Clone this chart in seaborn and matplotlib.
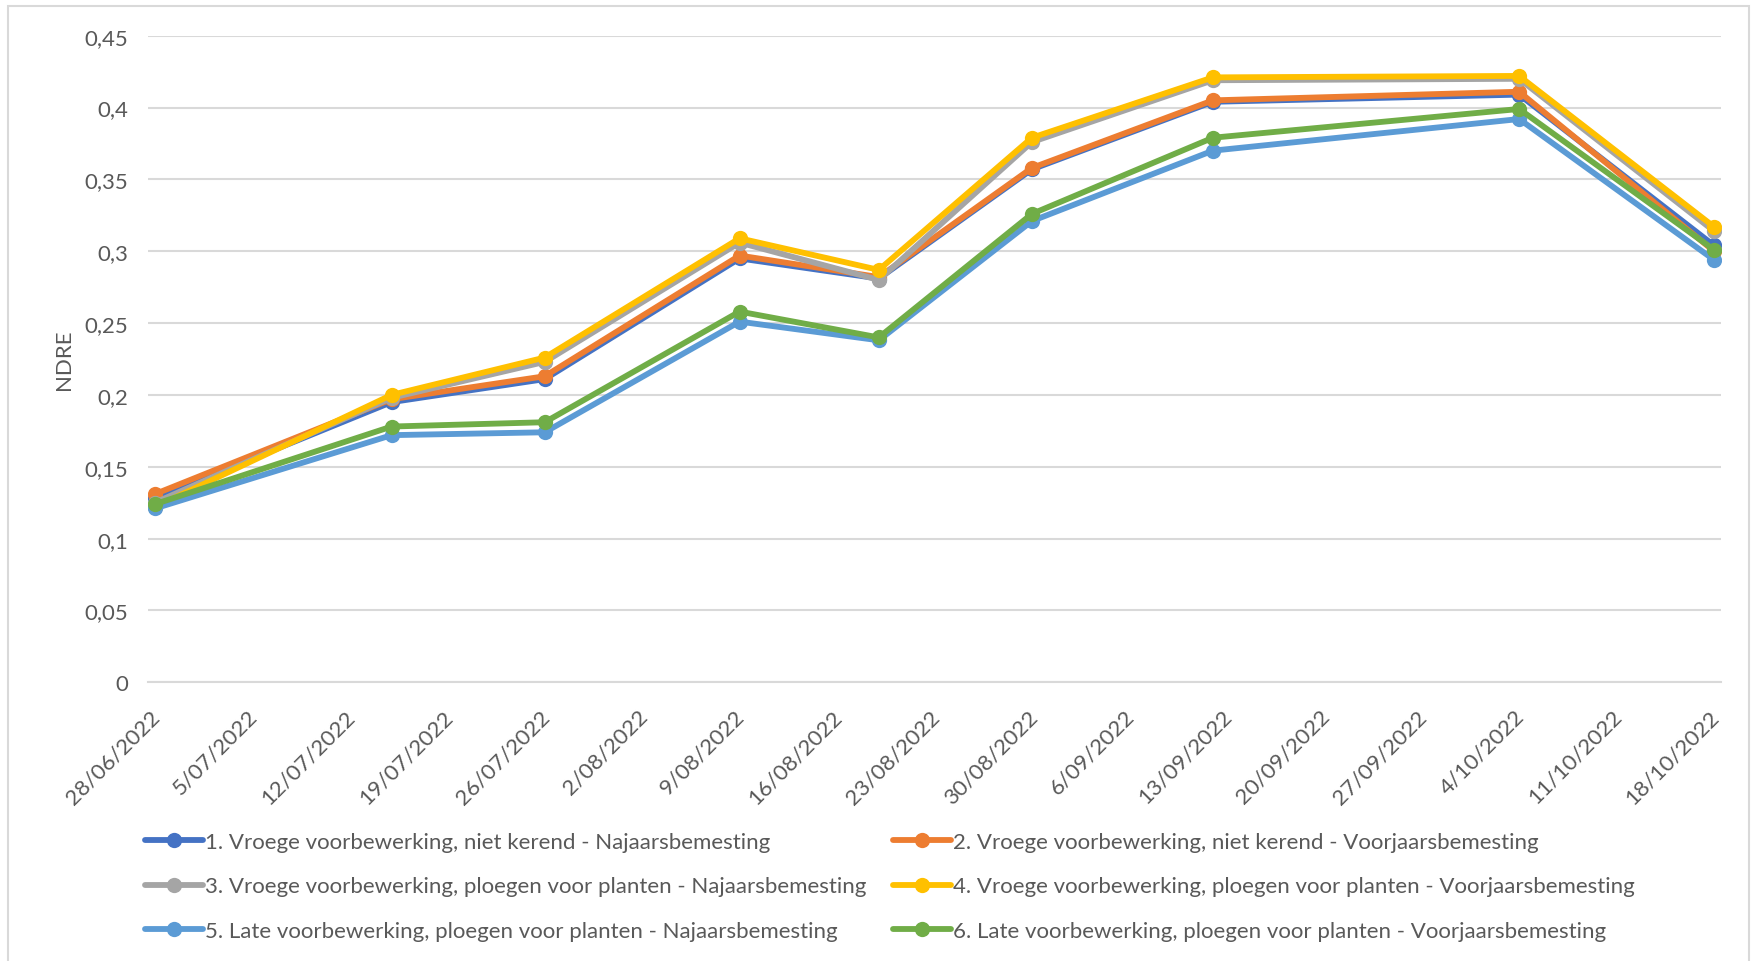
import matplotlib
matplotlib.use("Agg")
import matplotlib.pyplot as plt
from matplotlib.patches import Rectangle
from matplotlib.lines import Line2D
from matplotlib.transforms import ScaledTranslation
import seaborn as sns
import pandas as pd

# Measurement dates (day/month/year)
dates = ["28/06/2022", "15/07/2022", "26/07/2022", "9/08/2022", "19/08/2022",
         "30/08/2022", "12/09/2022", "4/10/2022", "18/10/2022"]

series_names = [
    "1. Vroege voorbewerking, niet kerend - Najaarsbemesting",
    "2. Vroege voorbewerking, niet kerend - Voorjaarsbemesting",
    "3. Vroege voorbewerking, ploegen voor planten - Najaarsbemesting",
    "4. Vroege voorbewerking, ploegen voor planten - Voorjaarsbemesting",
    "5. Late voorbewerking, ploegen voor planten - Najaarsbemesting",
    "6. Late voorbewerking, ploegen voor planten - Voorjaarsbemesting",
]

ndre_1 = [0.128, 0.195, 0.211, 0.295, 0.281, 0.357, 0.404, 0.409, 0.304]
ndre_2 = [0.131, 0.197, 0.213, 0.297, 0.282, 0.358, 0.405, 0.411, 0.300]
ndre_3 = [0.125, 0.198, 0.223, 0.306, 0.280, 0.376, 0.419, 0.420, 0.314]
ndre_4 = [0.122, 0.200, 0.226, 0.309, 0.287, 0.379, 0.421, 0.422, 0.317]
ndre_5 = [0.121, 0.172, 0.174, 0.251, 0.238, 0.321, 0.370, 0.392, 0.294]
ndre_6 = [0.124, 0.178, 0.181, 0.258, 0.240, 0.326, 0.379, 0.399, 0.301]

# Weekly date ticks on the x axis
x_ticks = ["28/06/2022", "5/07/2022", "12/07/2022", "19/07/2022", "26/07/2022",
           "2/08/2022", "9/08/2022", "16/08/2022", "23/08/2022", "30/08/2022",
           "6/09/2022", "13/09/2022", "20/09/2022", "27/09/2022", "4/10/2022",
           "11/10/2022", "18/10/2022"]
y_ticks = [0, 0.05, 0.1, 0.15, 0.2, 0.25, 0.3, 0.35, 0.4, 0.45]
y_tick_labels = ["0", "0,05", "0,1", "0,15", "0,2", "0,25", "0,3", "0,35", "0,4", "0,45"]

colors = ["#4472C4", "#ED7D31", "#A5A5A5", "#FFC000", "#5B9BD5", "#70AD47"]

sns.set_style("white")
plt.rcParams["font.family"] = ["Lato", "DejaVu Sans"]
text_color = "#595959"
grid_color = "#D9D9D9"
fs = 16
lw = 4.2
ms = 11

all_values = [ndre_1, ndre_2, ndre_3, ndre_4, ndre_5, ndre_6]
frames = []
for name, vals in zip(series_names, all_values):
    frames.append(pd.DataFrame({
        # each day occupies one slot on the date axis; points sit mid-day
        "date": pd.to_datetime(dates, format="%d/%m/%Y") + pd.Timedelta(hours=12),
        "NDRE": vals,
        "series": name,
    }))
df = pd.concat(frames, ignore_index=True)

fig = plt.figure(figsize=(17.51, 9.62), dpi=100)
ax = fig.add_axes([148 / 1751, 1 - 683.3 / 962, (1721 - 148) / 1751, (683.3 - 36.7) / 962])

sns.lineplot(data=df, x="date", y="NDRE", hue="series", hue_order=series_names,
             palette=colors, marker="o", markersize=ms, markeredgewidth=0,
             linewidth=lw, ax=ax, legend=False, sort=False)

tick_dates = pd.to_datetime(x_ticks, format="%d/%m/%Y")
ax.set_xlim(tick_dates[0], tick_dates[-1] + pd.Timedelta(days=1))
ax.set_xticks(tick_dates)
ax.set_xticklabels(x_ticks, rotation=45, ha="right", va="center",
                   rotation_mode="anchor", fontsize=fs, color=text_color)
ax.tick_params(axis="x", length=7, width=1.3, color=grid_color, pad=15)
shift = ScaledTranslation(9 / 100, 0, fig.dpi_scale_trans)
for lbl in ax.get_xticklabels():
    lbl.set_transform(lbl.get_transform() + shift)

ax.set_ylim(0, 0.45)
ax.set_yticks(y_ticks)
ax.set_yticklabels(y_tick_labels, fontsize=fs, color=text_color)
ax.tick_params(axis="y", length=0, pad=14)

ax.yaxis.grid(True, color=grid_color, linewidth=1.5)
ax.set_axisbelow(True)
for side in ["left", "right", "top"]:
    ax.spines[side].set_visible(False)
ax.spines["bottom"].set_color(grid_color)
ax.spines["bottom"].set_linewidth(1.5)

ax.set_xlabel("")
ax.set_ylabel("NDRE", fontsize=fs, color=text_color, labelpad=8)

# legend filled row by row: two columns, three rows
handles = [Line2D([0], [0], color=c, linewidth=lw, marker="o", markersize=ms,
                  markeredgewidth=0) for c in colors]
order = [0, 2, 4, 1, 3, 5]
fig.legend([handles[i] for i in order], [series_names[i] for i in order],
           loc="upper left", bbox_to_anchor=(145 / 1751, 1 - 833 / 962), ncol=2,
           frameon=False, fontsize=fs, handlelength=2.6, handletextpad=0.1,
           columnspacing=1.2, labelspacing=1.1, borderpad=0, borderaxespad=0,
           labelcolor=text_color)

# chart-area border
fig.patches.append(Rectangle((8 / 1751, -0.05), (1749 - 8) / 1751, 1.05 - 7 / 962,
                             transform=fig.transFigure, fill=False,
                             edgecolor=grid_color, linewidth=1.5))

fig.savefig("out.png", dpi=100)
